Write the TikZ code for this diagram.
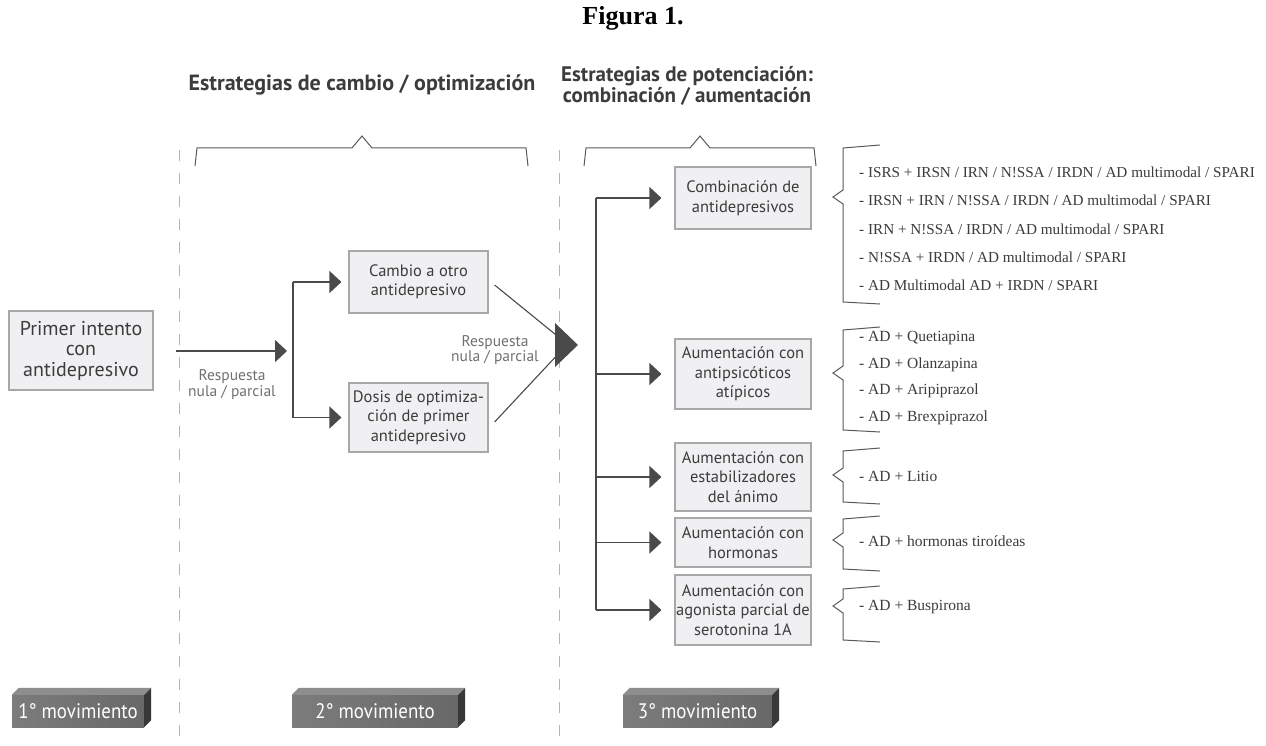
\documentclass[tikz,border=0pt]{standalone}
\usepackage{fontspec}
\setmainfont{Liberation Serif}
\newfontfamily\boxfont{PT Sans}
\newfontfamily\condfont[FakeStretch=0.9]{PT Sans}
\newfontfamily\listfont{Liberation Serif}
\usetikzlibrary{arrows.meta,calc}
\definecolor{boxfill}{HTML}{F0F0F3}
\definecolor{boxdraw}{HTML}{A8A8A8}
\definecolor{ink}{HTML}{3C3C3C}
\definecolor{conn}{HTML}{4A4A4A}
\definecolor{dashc}{HTML}{B4B4B4}
\definecolor{labc}{HTML}{707070}
\definecolor{brc}{HTML}{5A5A5A}
\definecolor{movfront}{HTML}{7C7C7C}
\definecolor{movfront2}{HTML}{686868}
\definecolor{movtop}{HTML}{8E8E8E}
\definecolor{movside}{HTML}{383838}
\newcommand\listbrace[3]{\draw[bracestyle] (880,#1-3) -- (843,#1) -- (843,#2-7) -- (833,#2) -- (843,#2+7) -- (843,#3) -- (880,#3+2);}
\newcommand\movfaces[1]{%
  \fill[movtop] (#1.north west) -- ++(7,-7) -- ($(#1.north east)+(7,-7)$) -- (#1.north east) -- cycle;
  \fill[movside] (#1.north east) -- ++(7,-7) -- ($(#1.south east)+(7,-7)$) -- (#1.south east) -- cycle;}
\begin{document}
\begin{tikzpicture}[x=1pt,y=-1pt,
  box/.style={draw=boxdraw, fill=boxfill, line width=1.2pt, text=ink, align=center,
    inner sep=0pt, font=\boxfont\fontsize{16.5}{19.5}\selectfont},
  ttl/.style={text=ink, align=center, inner sep=0pt, font=\boxfont\bfseries\fontsize{22}{21.5}\selectfont},
  lab/.style={text=labc, align=center, inner sep=0pt, font=\boxfont\fontsize{15.5}{15.5}\selectfont},
  lst/.style={text=ink, align=left, anchor=west, inner sep=0pt, font=\listfont\fontsize{15.5}{18}\selectfont},
  arr/.style={draw=conn, line width=1.6pt, -{Triangle[length=12pt,width=22pt]}},
  ln/.style={draw=conn, line width=1.6pt},
  diag/.style={draw=conn, line width=1.1pt},
  dsh/.style={draw=dashc, line width=1pt, dash pattern=on 11pt off 12pt},
  brk/.style={draw=brc, line width=1pt},
  bracestyle/.style={draw=brc, line width=1pt, line join=miter},
  mov/.style={inner sep=0pt, minimum height=32pt, text=white, left color=movfront, right color=movfront2,
    font=\condfont\fontsize{21}{22}\selectfont},
]
\useasboundingbox (0,0) rectangle (1266,746);
\fill[white] (0,0) rectangle (1266,746);

% title
\node[font=\bfseries\fontsize{26}{28}\selectfont, inner sep=0pt] (fig) at (633,18) {Figura 1.};

% column headings
\node[ttl] (t1) at (362,85) {Estrategias de cambio / optimización};
\node[ttl, font=\boxfont\bfseries\fontsize{21}{21.5}\selectfont] (t2) at (687,86) {Estrategias de potenciación:\\combinación / aumentación};

% dashed separators
\draw[dsh] (179,150) -- (179,746);
\draw[dsh] (559,150) -- (559,746);

% top brackets
\draw[brk] (195,166) -- (197,148) -- (352,148) -- (362,136) -- (372,148) -- (526,148) -- (528,166);
\draw[brk] (584,166) -- (586,148) -- (690,148) -- (700,136) -- (710,148) -- (814,148) -- (816,166);

% boxes
\node[box, minimum width=144pt, minimum height=79pt, font=\boxfont\fontsize{20}{20.5}\selectfont] (b1) at (81,350.5) {Primer intento\\con\\antidepresivo};
\node[box, minimum width=139pt, minimum height=62pt] (cambio) at (418.5,282) {Cambio a otro\\antidepresivo};
\node[box, minimum width=139pt, minimum height=69pt] (dosis) at (418.5,417.5) {Dosis de optimiza-\\ción de primer\\antidepresivo};

\node[box, minimum width=136pt, minimum height=62pt] (comb) at (743,198) {Combinación de\\antidepresivos};
\node[box, minimum width=136pt, minimum height=70pt] (anti) at (743,374) {Aumentación con\\antipsicóticos\\atípicos};
\node[box, minimum width=136pt, minimum height=68pt] (estab) at (743,477) {Aumentación con\\estabilizadores\\del ánimo};
\node[box, minimum width=136pt, minimum height=49pt] (horm) at (743,542.5) {Aumentación con\\hormonas};
\node[box, minimum width=136pt, minimum height=70pt] (agon) at (743,610) {Aumentación con\\agonista parcial de\\serotonina 1A};

% first move arrow
\coordinate (a1s) at (176,351);
\coordinate (v2) at (293,351);
\draw[arr] (a1s) -- ($(v2)+(-6,0)$);
\node[lab] (r1) at (232,384.5) {Respuesta\\nula / parcial};

% second move split
\draw[ln] (v2 |- cambio.west) -- (v2 |- dosis.west);
\draw[arr] (v2 |- cambio.west) -- ($(cambio.west)+(-7,0)$);
\draw[arr] (v2 |- dosis.west) -- ($(dosis.west)+(-7,0)$);

% convergence
\coordinate (conv) at (555,345);
\draw[diag] ($(cambio.east)+(6,3)$) -- ($(conv)+(6,-6)$);
\draw[diag] ($(dosis.east)+(6,4.5)$) -- ($(conv)+(6,6)$);
\fill[conn] ($(conv)+(0,-22)$) -- ($(conv)+(23,0)$) -- ($(conv)+(0,22)$) -- cycle;
\node[lab] (r2) at (495,350) {Respuesta\\nula / parcial};

% third move trunk
\coordinate (v3) at (596,0);
\draw[ln] (v3 |- comb.west) -- (v3 |- agon.west);
\foreach \n in {comb,anti,estab,horm,agon}{
  \draw[arr] (v3 |- \n.west) -- ($(\n.west)+(-13,0)$);
}

% braces
\listbrace{148}{197}{302}
\listbrace{330}{373}{430}
\listbrace{451}{475}{502}
\listbrace{519}{540}{569}
\listbrace{589}{606}{640}

% lists
\node[lst, font=\listfont\fontsize{15.2}{28.3}\selectfont] (l1) at (859,229) {- ISRS + IRSN / IRN / N!SSA / IRDN / AD multimodal / SPARI\\- IRSN + IRN / N!SSA / IRDN / AD multimodal / SPARI\\- IRN + N!SSA / IRDN / AD multimodal / SPARI\\- N!SSA + IRDN / AD multimodal / SPARI\\- AD Multimodal AD + IRDN / SPARI};
\node[lst, font=\listfont\fontsize{15.5}{26.7}\selectfont] (l2) at (859,378) {- AD + Quetiapina\\- AD + Olanzapina\\- AD + Aripiprazol\\- AD + Brexpiprazol};
\node[lst] (l3) at (859,476) {- AD + Litio};
\node[lst] (l4) at (859,541) {- AD + hormonas tiroídeas};
\node[lst] (l5) at (859,607) {- AD + Buspirona};

% movement labels
\node[mov, minimum width=132pt] (m1) at (78,711) {1° movimiento};
\node[mov, minimum width=166pt] (m2) at (375,711) {2° movimiento};
\node[mov, minimum width=149pt] (m3) at (697.5,711) {3° movimiento};
\movfaces{m1}
\movfaces{m2}
\movfaces{m3}
\end{tikzpicture}
\end{document}
